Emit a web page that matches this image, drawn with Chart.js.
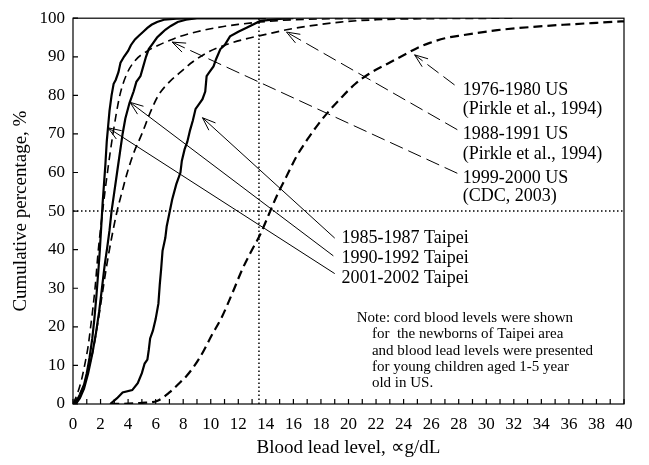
<!DOCTYPE html>
<html>
<head>
<meta charset="utf-8">
<script src="https://cdn.jsdelivr.net/npm/chart.js@4.4.0/dist/chart.umd.min.js"></script>
<style>
  html, body { margin: 0; padding: 0; background: #fff; }
  #wrap { width: 649px; height: 465px; }
</style>
</head>
<body>
<div id="wrap"><canvas id="leadChart" width="649" height="465"></canvas></div>
<script>
// Axis ticks
const xTickLabels = [0, 2, 4, 6, 8, 10, 12, 14, 16, 18, 20, 22, 24, 26, 28, 30, 32, 34, 36, 38, 40];
const yTickLabels = [0, 10, 20, 30, 40, 50, 60, 70, 80, 90, 100];

// Reference lines (dotted)
const refLevel = 13.5;   // µg/dL
const refPercent = 50;   // %

// 2001-2002 Taipei (solid)
const t0102X = [0.1, 0.3, 0.5, 0.8, 1.0, 1.2, 1.4, 1.55, 1.7, 1.85, 1.95, 2.05, 2.15, 2.25, 2.35, 2.45, 2.55, 2.65, 2.8, 2.95, 3.1, 3.3, 3.45, 3.7, 4.0, 4.2, 4.5, 4.8, 5.1, 5.4, 5.7, 6.1, 6.6, 7.5, 9, 14];
const t0102Y = [0, 1, 2.5, 5, 8, 12, 17, 22, 28, 35, 40, 46, 52, 57, 62, 68, 72, 76, 80, 83, 84, 86, 88.5, 90, 91.5, 93, 94.5, 95.5, 96.5, 97.5, 98.3, 99, 99.6, 99.9, 100, 100];

// 1990-1992 Taipei (solid)
const t9092X = [0.2, 0.5, 0.8, 1.1, 1.4, 1.65, 1.9, 2.1, 2.3, 2.5, 2.65, 2.8, 3.0, 3.2, 3.4, 3.6, 3.8, 4.1, 4.4, 4.6, 4.9, 5.1, 5.3, 5.5, 5.8, 6.1, 6.4, 6.7, 7.1, 7.6, 8.2, 9, 14];
const t9092Y = [0, 1.5, 4, 8, 13, 18, 24, 30, 36, 41, 45, 50, 55, 60, 65, 70, 74, 78, 81, 83.5, 85, 87.5, 90, 92, 93.5, 95, 96, 97, 98, 99, 99.6, 100, 100];

// 1985-1987 Taipei (solid)
const t8587X = [2.7, 3.2, 3.6, 4.3, 4.7, 5.0, 5.2, 5.4, 5.5, 5.6, 5.8, 6.0, 6.2, 6.3, 6.4, 6.5, 6.7, 6.8, 7.0, 7.2, 7.5, 7.8, 7.9, 8.1, 8.3, 8.5, 8.7, 8.9, 9.2, 9.4, 9.6, 9.7, 9.9, 10.2, 10.4, 10.7, 11.0, 11.4, 12.0, 12.6, 13.6, 15, 16];
const t8587Y = [0, 1.5, 3, 3.6, 5.4, 8, 10.5, 11.5, 14, 17, 19, 22, 26, 31, 35, 39.7, 43, 46, 49.5, 53, 57, 60, 63, 66, 68, 71, 73.5, 76.5, 78, 79, 81, 85, 86, 87.5, 89.5, 92, 93, 95.3, 96.5, 97.5, 99.3, 99.8, 100];

// 1999-2000 US (dashed)
const us9900X = [0, 0.3, 0.6, 0.87, 1.1, 1.28, 1.45, 1.6, 1.84, 2.15, 2.5, 2.9, 3.4, 3.9, 4.5, 5.4, 6.2, 7.2, 7.8, 9, 10.5, 12, 13.6, 16, 20, 25];
const us9900Y = [0, 2.5, 6, 10.5, 15, 20, 25, 30, 40, 50, 60, 70, 80, 85.5, 89, 91.5, 93, 94.5, 95.3, 96.5, 97.6, 98.4, 99, 99.6, 99.9, 100];

// 1988-1991 US (dashed)
const us8891X = [0, 0.4, 0.8, 1.1, 1.4, 1.75, 2.1, 2.45, 2.8, 3.2, 3.6, 3.9, 4.4, 5.0, 5.6, 6.2, 7.0, 7.8, 8.7, 9.8, 11, 12.5, 14, 15.5, 17, 19.4, 22, 26, 32];
const us8891Y = [0, 2, 5, 9, 13, 20, 28, 36, 43, 50, 55.5, 59.5, 65, 70, 75.5, 80, 83.5, 86, 88.7, 91.2, 93, 94.6, 95.8, 97.0, 97.9, 99, 99.6, 99.9, 100];

// 1976-1980 US (dashed)
const us7680X = [2.7, 4, 5, 6.1, 7.0, 7.6, 8.3, 9.2, 10.1, 10.8, 11.6, 12.3, 13.0, 13.6, 14.2, 14.8, 15.5, 16.2, 17.0, 17.8, 18.6, 19.5, 20.5, 21.5, 23, 24.2, 25, 25.9, 27, 28.3, 30.8, 33.2, 35.6, 38, 40];
const us7680Y = [0, 0.1, 0.3, 0.8, 3, 5, 7.5, 12, 18, 22.5, 29, 35, 40, 44, 49, 54, 59, 64, 68.5, 72.5, 76, 79.5, 83, 85.6, 88.5, 90.8, 92.3, 93.6, 94.8, 95.6, 96.9, 97.7, 98.3, 98.8, 99.2];

// Annotation arrows (data units): tail -> head
const arrowTails = [[19.0, 43.0], [18.9, 38.4], [19.0, 33.8], [27.7, 82.7], [27.9, 71.1], [27.9, 59.8]];
const arrowHeads = [[9.4, 74.2], [4.14, 78.2], [2.54, 71.6], [24.8, 90.5], [15.5, 96.4], [7.2, 93.8]];
const arrowDashed = [false, false, false, true, true, true];

// Series labels (data units, left edge / vertical centre)
const labelTexts = ['1976-1980 US', '(Pirkle et al., 1994)', '1988-1991 US', '(Pirkle et al., 1994)', '1999-2000 US', '(CDC, 2003)',
  '1985-1987 Taipei', '1990-1992 Taipei', '2001-2002 Taipei'];
const labelX = [28.3, 28.3, 28.3, 28.3, 28.3, 28.3, 19.5, 19.5, 19.5];
const labelY = [81.4, 76.3, 69.8, 64.7, 58.5, 53.9, 43.0, 37.9, 32.7];

const noteLines = ['Note: cord blood levels were shown', 'for  the newborns of Taipei area',
  'and blood lead levels were presented', 'for young children aged 1-5 year', 'old in US.'];
const noteX = [20.6, 21.7, 21.7, 21.7, 21.7];
const noteY = [22.2, 18.0, 13.7, 9.5, 5.4];

function toPoints(xs, ys) {
  return xs.map((x, i) => ({ x, y: ys[i] }));
}

function curve(label, xs, ys, dashed, width) {
  return {
    label,
    data: toPoints(xs, ys),
    borderColor: '#000',
    borderWidth: width,
    borderDash: dashed ? [8, 5] : [],
    pointRadius: 0,
    fill: false,
    tension: 0,
    cubicInterpolationMode: dashed ? 'monotone' : 'default',
    order: 1,
  };
}

const serif = '"Liberation Serif", "Times New Roman", serif';

// Frame, inward ticks, arrows and texts
const decorPlugin = {
  id: 'decor',
  afterDraw(chart) {
    const ctx = chart.ctx;
    const a = chart.chartArea;
    const xs = chart.scales.x;
    const ys = chart.scales.y;
    ctx.save();
    ctx.strokeStyle = '#000';
    ctx.lineWidth = 1.2;
    ctx.setLineDash([]);
    ctx.strokeRect(a.left, a.top, a.right - a.left, a.bottom - a.top);

    ctx.beginPath();
    for (let v = 0; v <= 40; v++) {
      const px = xs.getPixelForValue(v);
      ctx.moveTo(px, a.bottom);
      ctx.lineTo(px, a.bottom - 5);
    }
    yTickLabels.forEach((v) => {
      const py = ys.getPixelForValue(v);
      ctx.moveTo(a.left, py);
      ctx.lineTo(a.left + 5, py);
    });
    ctx.stroke();

    // arrows
    ctx.lineWidth = 1;
    arrowTails.forEach((t, i) => {
      const x1 = xs.getPixelForValue(t[0]);
      const y1 = ys.getPixelForValue(t[1]);
      const x2 = xs.getPixelForValue(arrowHeads[i][0]);
      const y2 = ys.getPixelForValue(arrowHeads[i][1]);
      ctx.setLineDash(arrowDashed[i] ? [14, 6] : []);
      ctx.beginPath();
      ctx.moveTo(x1, y1);
      ctx.lineTo(x2, y2);
      ctx.stroke();
      const ang = Math.atan2(y1 - y2, x1 - x2);
      const len = 14;
      const spread = 0.36;
      ctx.setLineDash([]);
      ctx.beginPath();
      ctx.moveTo(x2 + len * Math.cos(ang - spread), y2 + len * Math.sin(ang - spread));
      ctx.lineTo(x2, y2);
      ctx.lineTo(x2 + len * Math.cos(ang + spread), y2 + len * Math.sin(ang + spread));
      ctx.stroke();
    });

    ctx.fillStyle = '#000';
    ctx.textAlign = 'left';
    ctx.textBaseline = 'middle';
    ctx.font = '18px ' + serif;
    labelTexts.forEach((s, i) => {
      ctx.fillText(s, xs.getPixelForValue(labelX[i]), ys.getPixelForValue(labelY[i]));
    });
    ctx.font = '15px ' + serif;
    noteLines.forEach((s, i) => {
      ctx.fillText(s, xs.getPixelForValue(noteX[i]), ys.getPixelForValue(noteY[i]));
    });
    ctx.restore();
  },
};

const dotted = {
  borderColor: '#000',
  borderWidth: 1.5,
  borderDash: [1.5, 2.5],
  pointRadius: 0,
  fill: false,
  order: 5,
};

new Chart(document.getElementById('leadChart'), {
  type: 'line',
  data: {
    datasets: [
      { ...dotted, label: 'ref x', data: [{ x: refLevel, y: 0 }, { x: refLevel, y: 100 }] },
      { ...dotted, label: 'ref y', data: [{ x: 0, y: refPercent }, { x: 40, y: refPercent }] },
      curve('2001-2002 Taipei', t0102X, t0102Y, false, 2.2),
      curve('1990-1992 Taipei', t9092X, t9092Y, false, 2.2),
      curve('1985-1987 Taipei', t8587X, t8587Y, false, 2.2),
      curve('1999-2000 US', us9900X, us9900Y, true, 1.6),
      curve('1988-1991 US', us8891X, us8891Y, true, 1.7),
      { ...curve('1976-1980 US', us7680X, us7680Y, true, 2.2), borderDash: [9, 5] },
    ],
  },
  options: {
    responsive: false,
    animation: false,
    devicePixelRatio: 1,
    layout: { padding: { top: 16, right: 25, left: 0, bottom: 0 } },
    plugins: { legend: { display: false }, tooltip: { enabled: false } },
    scales: {
      x: {
        type: 'linear',
        min: 0,
        max: 40,
        grid: { display: false, drawTicks: false },
        border: { display: false },
        ticks: {
          stepSize: 1,
          autoSkip: false,
          maxRotation: 0,
          padding: 10,
          color: '#000',
          font: { family: serif, size: 17 },
          callback: (v) => (xTickLabels.includes(v) ? String(v) : ''),
        },
        title: {
          display: true,
          text: 'Blood lead level, ∝g/dL',
          color: '#000',
          font: { family: serif, size: 19 },
          padding: { top: 0, bottom: 6 },
        },
        afterFit: (scale) => { scale.height = 61; },
      },
      y: {
        type: 'linear',
        min: 0,
        max: 100,
        grid: { display: false, drawTicks: false },
        border: { display: false },
        ticks: {
          stepSize: 10,
          padding: 8,
          color: '#000',
          font: { family: serif, size: 17 },
          callback: (v) => (yTickLabels.includes(v) ? String(v) : ''),
        },
        title: {
          display: true,
          text: 'Cumulative percentage, %',
          color: '#000',
          font: { family: serif, size: 19 },
          padding: { top: 10, bottom: 0 },
        },
        afterFit: (scale) => { scale.width = 73; },
      },
    },
  },
  plugins: [decorPlugin],
});
</script>
</body>
</html>
